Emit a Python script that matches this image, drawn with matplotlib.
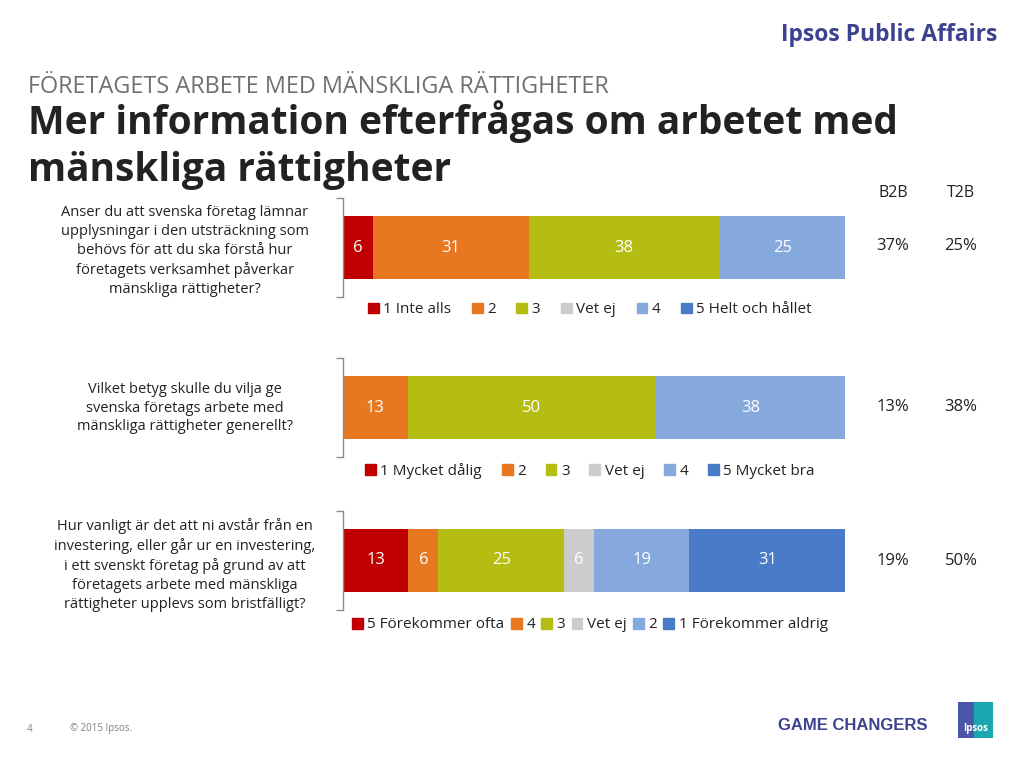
import matplotlib
matplotlib.use("Agg")
import matplotlib.pyplot as plt
from matplotlib.patches import Rectangle

plt.rcParams['font.family'] = ['Open Sans', 'DejaVu Sans']

# ---------------- data ----------------
questions = [
    "Anser du att svenska företag lämnar\nupplysningar i den utsträckning som\nbehövs för att du ska förstå hur\nföretagets verksamhet påverkar\nmänskliga rättigheter?",
    "Vilket betyg skulle du vilja ge\nsvenska företags arbete med\nmänskliga rättigheter generellt?",
    "Hur vanligt är det att ni avstår från en\ninvestering, eller går ur en investering,\ni ett svenskt företag på grund av att\nföretagets arbete med mänskliga\nrättigheter upplevs som bristfälligt?",
]
legend_labels = [
    ["1 Inte alls", "2", "3", "Vet ej", "4", "5 Helt och hållet"],
    ["1 Mycket dålig", "2", "3", "Vet ej", "4", "5 Mycket bra"],
    ["5 Förekommer ofta", "4", "3", "Vet ej", "2", "1 Förekommer aldrig"],
]
values = [
    [6, 31, 38, 0, 25, 0],
    [0, 13, 50, 0, 38, 0],
    [13, 6, 25, 6, 19, 31],
]
b2b = ["37%", "13%", "19%"]
t2b = ["25%", "38%", "50%"]

colors = ["#C00000", "#E87722", "#B5BD12", "#CCCCCC", "#86A9DD", "#4A7BC8"]

W, H = 1024, 768
fig = plt.figure(figsize=(W / 100, H / 100), dpi=100)


def fx(x):
    return x / W


def fy(y):
    return 1 - y / H


# header texts
fig.text(fx(997), fy(35), "Ipsos Public Affairs", ha="right", va="center",
         fontsize=16.5, fontweight="bold", color="#3C4290")
fig.text(fx(28), fy(87), "FÖRETAGETS ARBETE MED MÄNSKLIGA RÄTTIGHETER",
         ha="left", va="center", fontsize=16.9, color="#707070")
fig.text(fx(28), fy(122), "Mer information efterfrågas om arbetet med",
         ha="left", va="center", fontsize=28.0, fontweight="bold", color="#222222")
fig.text(fx(28), fy(170), "mänskliga rättigheter",
         ha="left", va="center", fontsize=28.0, fontweight="bold", color="#222222")

fig.text(fx(893), fy(193), "B2B", ha="center", va="center", fontsize=11.5, color="#222222")
fig.text(fx(961), fy(193), "T2B", ha="center", va="center", fontsize=11.5, color="#222222")

# chart geometry (pixel tops of axes spines, bar center, legend y, question center)
axes_tops = [198, 358, 511]
ax_h = 99
legend_y = [310, 471, 625]
legend_spacing = [1.35, 1.3, 0.42]
q_y = [251, 408, 565]
val_y = [246, 407, 561]

for i in range(3):
    top = axes_tops[i]
    ax = fig.add_axes([fx(343), fy(top + ax_h), fx(502), ax_h / H])
    total = sum(values[i])
    left = 0
    for j, v in enumerate(values[i]):
        ax.barh(0, v, left=left, height=0.63, color=colors[j],
                label=legend_labels[i][j], edgecolor="none")
        if v > 0:
            ax.text(left + v / 2, 0, str(v), ha="center", va="center",
                    color="white", fontsize=12)
        left += v
    ax.set_xlim(0, total)
    ax.set_ylim(-0.5, 0.5)
    for s in ["top", "right", "bottom"]:
        ax.spines[s].set_visible(False)
    ax.spines["left"].set_color("#8C8C8C")
    ax.spines["left"].set_linewidth(1.0)
    ax.set_xticks([])
    ax.set_yticks([-0.5, 0.5])
    ax.set_yticklabels([])
    ax.tick_params(axis="y", direction="out", length=5, color="#8C8C8C", width=1.0)
    ax.patch.set_alpha(0)

    # legend
    handles = [Rectangle((0, 0), 1, 1, color=c) for c in colors]
    fig.legend(handles, legend_labels[i], loc="center",
               bbox_to_anchor=(fx(590), fy(legend_y[i])), ncol=6,
               frameon=False, fontsize=11, handlelength=0.7,
               handleheight=0.7, handletextpad=0.3,
               columnspacing=legend_spacing[i], labelcolor="#222222")

    fig.text(fx(185), fy(q_y[i]), questions[i], ha="center", va="center",
             fontsize=10.5, color="#222222", linespacing=1.35)
    fig.text(fx(893), fy(val_y[i]), b2b[i], ha="center", va="center",
             fontsize=12, color="#222222")
    fig.text(fx(961), fy(val_y[i]), t2b[i], ha="center", va="center",
             fontsize=12, color="#222222")

# footer
fig.text(fx(30), fy(729), "4", ha="center", va="center", fontsize=7, color="#808080")
fig.text(fx(70), fy(729), "© 2015 Ipsos.", ha="left", va="center", fontsize=7, color="#808080")
fig.text(fx(928), fy(726), "GAME CHANGERS", ha="right", va="center",
         fontsize=12, fontweight="bold", color="#3C4290",
         family=["Liberation Sans", "DejaVu Sans"])
logo = fig.add_axes([fx(958), fy(738), fx(35), 36 / H])
logo.set_xlim(0, 1)
logo.set_ylim(0, 1)
logo.axis("off")
logo.add_patch(Rectangle((0, 0), 1, 1, color="#4A57A8"))
logo.add_patch(Rectangle((0.45, 0), 0.55, 1, color="#19A7B0"))
logo.text(0.5, 0.25, "Ipsos", ha="center", va="center", color="white",
          fontsize=7, fontweight="bold")

fig.savefig("out.png", dpi=100)
